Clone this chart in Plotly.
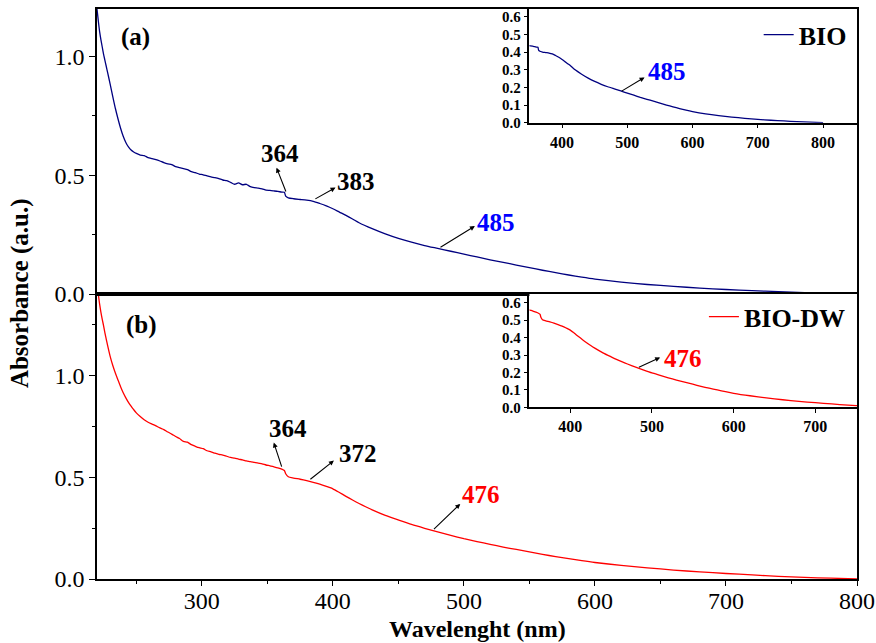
import plotly.graph_objects as go

# ---------------- data ----------------
wl_bio = [220, 221, 222, 223, 224, 225, 226, 227, 228, 230, 232, 234, 236, 238, 240, 242, 244, 246, 248,
          250, 253, 256, 259, 262, 265, 268, 271, 274, 277, 280, 283, 286, 289, 292, 295, 298, 301, 304,
          307, 310, 313, 316, 319, 322, 325, 328, 331, 334, 337, 340, 343, 346, 349, 352, 355, 358, 361,
          363, 364, 366, 370, 375, 380, 385, 390, 395, 400, 405, 410, 415, 420, 430, 440, 450, 460, 470,
          480, 490, 500, 510, 520, 530, 540, 550, 560, 570, 580, 590, 600, 620, 640, 660, 680, 700, 720,
          740, 760, 780, 800]
abs_bio = [1.200, 1.150, 1.105, 1.070, 1.040, 1.010, 0.985, 0.960, 0.935, 0.885, 0.832, 0.782, 0.738, 0.698,
           0.664, 0.638, 0.619, 0.606, 0.598, 0.592, 0.585, 0.583, 0.574, 0.570, 0.566, 0.560, 0.553, 0.548,
           0.545, 0.536, 0.532, 0.528, 0.524, 0.515, 0.511, 0.505, 0.502, 0.497, 0.493, 0.490, 0.486, 0.480,
           0.477, 0.470, 0.462, 0.468, 0.460, 0.462, 0.452, 0.448, 0.446, 0.443, 0.437, 0.436, 0.434, 0.432,
           0.429, 0.428, 0.412, 0.405, 0.401, 0.398, 0.395, 0.390, 0.381, 0.371, 0.359, 0.345, 0.331, 0.316,
           0.300, 0.275, 0.253, 0.234, 0.218, 0.204, 0.192, 0.180, 0.168, 0.156, 0.144, 0.133, 0.122, 0.111,
           0.100, 0.090, 0.080, 0.071, 0.063, 0.050, 0.040, 0.032, 0.025, 0.019, 0.014, 0.010, 0.006, 0.003,
           0.001]

wl_dw = [220, 221, 222, 223, 224, 225, 226, 227, 228, 230, 232, 234, 236, 238, 240, 242, 244, 246, 248,
         250, 253, 256, 259, 262, 265, 268, 271, 274, 277, 280, 283, 286, 289, 292, 295, 298, 301, 304,
         307, 310, 313, 316, 319, 322, 325, 328, 331, 334, 337, 340, 343, 346, 349, 352, 355, 358, 361,
         363, 364, 366, 370, 375, 380, 385, 390, 395, 400, 405, 410, 415, 420, 425, 430, 440, 450, 460,
         470, 480, 490, 500, 510, 520, 530, 540, 550, 560, 570, 580, 590, 600, 620, 640, 660, 680, 700,
         720, 740, 760, 780, 800]
abs_dw = [1.460, 1.400, 1.350, 1.310, 1.275, 1.245, 1.210, 1.180, 1.150, 1.095, 1.050, 1.012, 0.978, 0.945,
          0.915, 0.890, 0.868, 0.849, 0.832, 0.816, 0.798, 0.782, 0.770, 0.761, 0.752, 0.742, 0.734, 0.722,
          0.712, 0.700, 0.690, 0.676, 0.672, 0.660, 0.652, 0.645, 0.640, 0.630, 0.625, 0.618, 0.612, 0.609,
          0.603, 0.597, 0.594, 0.589, 0.585, 0.580, 0.577, 0.573, 0.569, 0.566, 0.560, 0.556, 0.551, 0.546,
          0.540, 0.533, 0.517, 0.502, 0.496, 0.490, 0.483, 0.475, 0.466, 0.455, 0.443, 0.425, 0.406, 0.388,
          0.371, 0.355, 0.340, 0.313, 0.290, 0.268, 0.249, 0.231, 0.214, 0.198, 0.184, 0.170, 0.157, 0.145,
          0.133, 0.121, 0.110, 0.100, 0.090, 0.081, 0.067, 0.055, 0.044, 0.035, 0.027, 0.020, 0.013, 0.008,
          0.004, 0.001]

names = ["BIO", "BIO-DW"]
colors = ["#000080", "#ff0000"]
panel_labels = ["(a)", "(b)"]
x_title = "Wavelenght (nm)"
y_title = "Absorbance (a.u.)"

# peak labels: (text, tail x, tail y, head x, head y, label x, label y, color, axes)
peaks = [
    ("364", 364.6, 0.425, 357.0, 0.532, 360.0, 0.590, "black", ("x2", "y2")),
    ("383", 385.5, 0.397, 402.0, 0.448, 418.0, 0.472, "black", ("x2", "y2")),
    ("485", 481.0, 0.193, 508.4, 0.286, 524.5, 0.302, "#0000ff", ("x2", "y2")),
    ("485", 489.0, 0.174, 526.4, 0.257, 560.7, 0.293, "#0000ff", ("x3", "y3")),
    ("364", 361.3, 0.545, 354.9, 0.670, 365.6, 0.741, "black", ("x", "y")),
    ("372", 381.7, 0.484, 400.8, 0.582, 419.0, 0.618, "black", ("x", "y")),
    ("476", 476.0, 0.238, 497.2, 0.369, 513.0, 0.413, "#ff0000", ("x", "y")),
    ("476", 482.2, 0.227, 510.0, 0.286, 538.5, 0.283, "#ff0000", ("x4", "y4")),
]

FONT = "Liberation Serif, Times New Roman, serif"

fig = go.Figure()
# main panels
fig.add_trace(go.Scatter(x=wl_bio, y=abs_bio, mode="lines", name=names[0],
                         line=dict(color=colors[0], width=1.3, shape="spline", smoothing=0.6),
                         xaxis="x2", yaxis="y2", legend="legend"))
fig.add_trace(go.Scatter(x=wl_dw, y=abs_dw, mode="lines", name=names[1],
                         line=dict(color=colors[1], width=1.3, shape="spline", smoothing=0.6),
                         xaxis="x", yaxis="y", legend="legend2"))
# insets
fig.add_trace(go.Scatter(x=wl_bio, y=abs_bio, mode="lines", showlegend=False,
                         line=dict(color=colors[0], width=1.3, shape="spline", smoothing=0.6),
                         xaxis="x3", yaxis="y3"))
fig.add_trace(go.Scatter(x=wl_dw, y=abs_dw, mode="lines", showlegend=False,
                         line=dict(color=colors[1], width=1.3, shape="spline", smoothing=0.6),
                         xaxis="x4", yaxis="y4"))

axcommon = dict(showline=True, linecolor="black", linewidth=1.5, mirror=True,
                showgrid=False, zeroline=False, automargin=False)
main_tick = dict(family=FONT, size=24, color="black")
inset_xtick = dict(family=FONT, size=16, color="black", weight="bold")
inset_ytick = dict(family=FONT, size=15, color="black", weight="bold")

annotations = []
for txt, tx, ty, hx, hy, lx, ly, col, (xr, yr) in peaks:
    annotations.append(dict(x=hx, y=hy, ax=tx, ay=ty, xref=xr, yref=yr, axref=xr, ayref=yr,
                            text="", showarrow=True, arrowhead=2, arrowsize=0.9, arrowwidth=1.1,
                            arrowcolor="black", standoff=0, startstandoff=0))
    annotations.append(dict(x=lx, y=ly, xref=xr, yref=yr, text="<b>" + txt + "</b>",
                            xanchor="center", yanchor="middle",
                            showarrow=False, font=dict(family=FONT, size=25, color=col)))

annotations.append(dict(x=0.05, y=0.951, xref="paper", yref="paper", text="<b>" + panel_labels[0] + "</b>",
                        xanchor="center", yanchor="middle",
                        showarrow=False, font=dict(family=FONT, size=25, color="black")))
annotations.append(dict(x=0.058, y=0.445, xref="paper", yref="paper", text="<b>" + panel_labels[1] + "</b>",
                        xanchor="center", yanchor="middle",
                        showarrow=False, font=dict(family=FONT, size=25, color="black")))
annotations.append(dict(x=-0.101, y=0.502, xref="paper", yref="paper", text="<b>" + y_title + "</b>",
                        xanchor="center", yanchor="middle",
                        textangle=-90, showarrow=False, font=dict(family=FONT, size=25, color="black")))
annotations.append(dict(x=0.5, y=-0.087, xref="paper", yref="paper", text="<b>" + x_title + "</b>",
                        xanchor="center", yanchor="middle",
                        showarrow=False, font=dict(family=FONT, size=24, color="black")))

fig.update_layout(
    width=876, height=643,
    margin=dict(l=97, r=19, t=9, b=64, autoexpand=False),
    paper_bgcolor="white", plot_bgcolor="white",
    font=dict(family=FONT, color="black"),
    xaxis=dict(**axcommon, domain=[0, 1], anchor="y", range=[220, 800], tick0=0, dtick=100,
               ticks="outside", ticklen=5, tickwidth=1.3, tickcolor="black", tickfont=main_tick,
               ticklabelstandoff=-6,
               minor=dict(dtick=50, ticks="outside", ticklen=3, tickcolor="black")),
    yaxis=dict(**axcommon, domain=[0, 0.5], anchor="x", range=[0, 1.4], tick0=0, dtick=0.5,
               tickformat=".1f", ticks="outside", ticklen=6, tickwidth=1.3, tickcolor="black",
               tickfont=main_tick, minor=dict(dtick=0.25, ticks="outside", ticklen=3, tickcolor="black")),
    xaxis2=dict(**axcommon, domain=[0, 1], anchor="y2", range=[220, 800], showticklabels=False,
                ticks=""),
    yaxis2=dict(**axcommon, domain=[0.5, 1], anchor="x2", range=[0, 1.2], tick0=0, dtick=0.5,
                tickformat=".1f", ticks="outside", ticklen=6, tickwidth=1.3, tickcolor="black",
                tickfont=main_tick, minor=dict(dtick=0.25, ticks="outside", ticklen=3, tickcolor="black")),
    xaxis3=dict(**axcommon, domain=[0.569, 1], anchor="y3", range=[350, 852], tick0=0, dtick=100,
                ticks="outside", ticklen=4, tickcolor="black", tickfont=inset_xtick),
    yaxis3=dict(**axcommon, domain=[0.8005, 1], anchor="x3", range=[0, 0.645], tick0=0, dtick=0.1,
                tickformat=".1f", ticks="outside", ticklen=4, tickcolor="black", tickfont=inset_ytick),
    xaxis4=dict(**axcommon, domain=[0.569, 1], anchor="y4", range=[350, 751], tick0=0, dtick=100,
                ticks="outside", ticklen=4, tickcolor="black", tickfont=inset_xtick),
    yaxis4=dict(**axcommon, domain=[0.301, 0.5], anchor="x4", range=[0, 0.65], tick0=0, dtick=0.1,
                tickformat=".1f", ticks="outside", ticklen=4, tickcolor="black", tickfont=inset_ytick),
    legend=dict(x=0.993, y=0.955, xanchor="right", yanchor="middle", bgcolor="rgba(0,0,0,0)",
                font=dict(family=FONT, size=26, color="black", weight="bold")),
    legend2=dict(x=0.992, y=0.46, xanchor="right", yanchor="middle", bgcolor="rgba(0,0,0,0)",
                 font=dict(family=FONT, size=26, color="black", weight="bold")),
    annotations=annotations,
    showlegend=True,
)

fig.write_html("out.html")
